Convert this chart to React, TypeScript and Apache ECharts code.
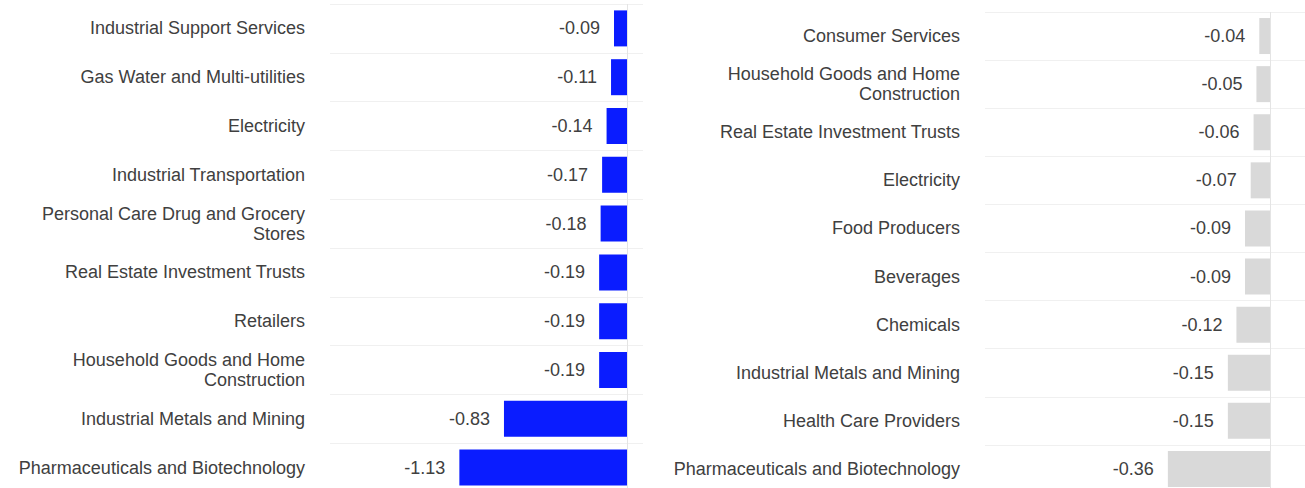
import React, { useEffect, useRef } from "react";
import * as echarts from "echarts";

const leftCategories = [
  "Industrial Support Services",
  "Gas Water and Multi-utilities",
  "Electricity",
  "Industrial Transportation",
  "Personal Care Drug and Grocery\nStores",
  "Real Estate Investment Trusts",
  "Retailers",
  "Household Goods and Home\nConstruction",
  "Industrial Metals and Mining",
  "Pharmaceuticals and Biotechnology",
];
const leftValues = [-0.09, -0.11, -0.14, -0.17, -0.18, -0.19, -0.19, -0.19, -0.83, -1.13];

const rightCategories = [
  "Consumer Services",
  "Household Goods and Home\nConstruction",
  "Real Estate Investment Trusts",
  "Electricity",
  "Food Producers",
  "Beverages",
  "Chemicals",
  "Industrial Metals and Mining",
  "Health Care Providers",
  "Pharmaceuticals and Biotechnology",
];
const rightValues = [-0.04, -0.05, -0.06, -0.07, -0.09, -0.09, -0.12, -0.15, -0.15, -0.36];

const FONT = "'Liberation Sans', Arial, sans-serif";
const TEXT = "#404040";

export default function App() {
  const ref = useRef<HTMLDivElement>(null);
  useEffect(() => {
    if (!ref.current) return;
    const chart = echarts.init(ref.current, null, { renderer: "svg" });
    const yAxisBase = (gridIndex: number, data: string[]) => ({
      type: "category",
      gridIndex,
      data,
      inverse: true,
      axisLine: { show: false },
      axisTick: { show: false },
      splitLine: { show: true, lineStyle: { color: "#f0f0f0", width: 1 } },
      axisLabel: {
        margin: 25,
        color: TEXT,
        fontSize: 18,
        fontFamily: FONT,
        lineHeight: 20,
        align: "right",
      },
    });
    const seriesBase = (idx: number, data: number[], color: string) => ({
      type: "bar",
      xAxisIndex: idx,
      yAxisIndex: idx,
      data,
      barWidth: 36,
      itemStyle: { color },
      label: {
        show: true,
        position: "left",
        distance: 14,
        color: TEXT,
        fontSize: 18,
        fontFamily: FONT,
        formatter: (p: any) => Number(p.value).toFixed(2),
      },
      markLine: {
        silent: true,
        symbol: "none",
        label: { show: false },
        lineStyle: { color: "#e4e4e4", width: 1, type: "solid" },
        data: [{ xAxis: 0 }],
      },
    });
    chart.setOption({
      animation: false,
      grid: [
        { left: 330, top: 4, width: 313, height: 488 },
        { left: 985, top: 12, width: 320, height: 481 },
      ],
      xAxis: [
        { type: "value", gridIndex: 0, min: -2, max: 0.105, show: false },
        { type: "value", gridIndex: 1, min: -1, max: 0.12, show: false },
      ],
      yAxis: [yAxisBase(0, leftCategories), yAxisBase(1, rightCategories)],
      series: [
        seriesBase(0, leftValues, "#0a1cff"),
        seriesBase(1, rightValues, "#d9d9d9"),
      ],
    });
    return () => chart.dispose();
  }, []);
  return (
    <div
      style={{
        position: "fixed",
        left: 0,
        top: 0,
        width: 1305,
        height: 488,
        overflow: "hidden",
        background: "#fff",
      }}
    >
      <div ref={ref} style={{ width: 1305, height: 500 }} />
    </div>
  );
}
